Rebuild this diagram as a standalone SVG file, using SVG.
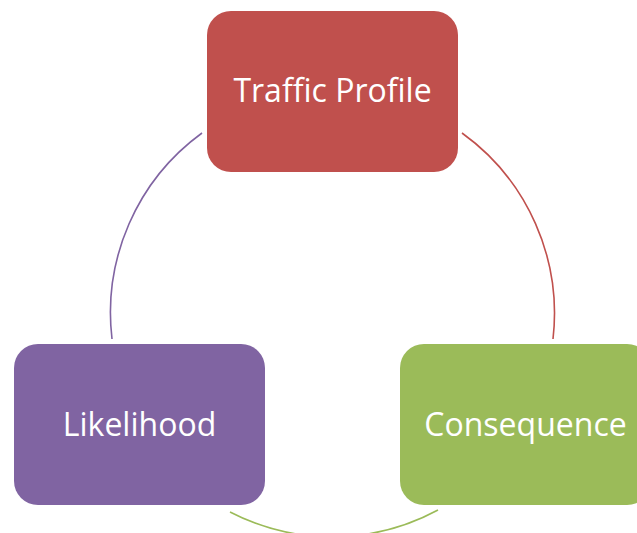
<svg xmlns="http://www.w3.org/2000/svg" width="637" height="533" viewBox="0 0 637 533">
<style>
.lbl{font-family:"Open Sans","Liberation Sans",sans-serif;font-size:32px;fill:#FFFFFF;text-anchor:middle}
.arc{fill:none;stroke-width:1.6}
</style>
<rect width="637" height="533" fill="#FFFFFF"/>
<g id="connectors">
<path class="arc" stroke="#8064A2" d="M112,339 A222.5,222.5 0 0 1 202,133"/>
<path class="arc" stroke="#C0504D" d="M462,133 A222.5,222.5 0 0 1 553,339"/>
<path class="arc" stroke="#9BBB59" d="M438,510 A222.5,222.5 0 0 1 230,512"/>
</g>
<g id="traffic-profile">
<rect x="207" y="11" width="251" height="161" rx="24" fill="#C0504D"/>
<text class="lbl" x="332.5" y="102">Traffic Profile</text>
</g>
<g id="likelihood">
<rect x="14" y="344" width="251" height="161" rx="24" fill="#8064A2"/>
<text class="lbl" x="139.5" y="436">Likelihood</text>
</g>
<g id="consequence">
<rect x="400" y="344" width="251" height="161" rx="24" fill="#9BBB59"/>
<text class="lbl" x="525.5" y="436">Consequence</text>
</g>
</svg>
